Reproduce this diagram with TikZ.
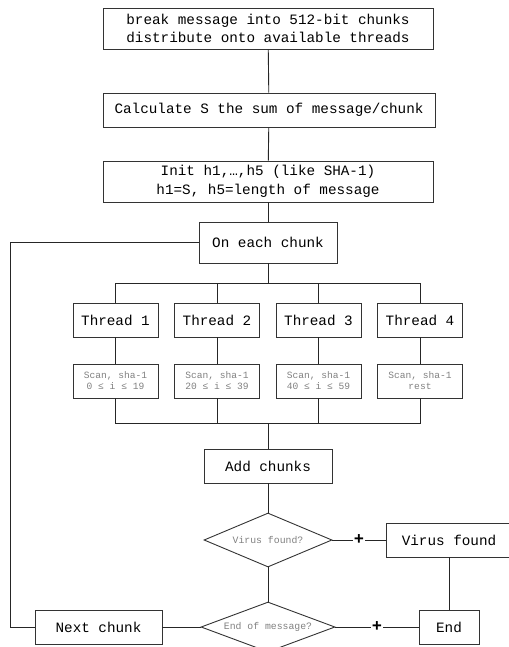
\documentclass[tikz,border=0pt]{standalone}
\usepackage{fontspec}
\usepackage{tikz}
\usetikzlibrary{shapes.geometric,positioning}
\newfontfamily\flowfont{Liberation Mono}

\tikzset{
  box/.style={draw=black!80, rectangle, inner sep=0pt, align=center,
    font=\flowfont\fontsize{14.3}{18.5}\selectfont},
  smallbox/.style={box, text=black!50,
    font=\flowfont\fontsize{9.6}{11}\selectfont},
  decision/.style={draw=black!80, diamond, inner sep=0pt, aspect=2.4,
    text=black!50, font=\flowfont\fontsize{9.8}{11}\selectfont},
  plus/.style={fill=white, inner sep=0.5pt,
    font=\flowfont\bfseries\fontsize{17}{17}\selectfont},
  link/.style={draw=black!85, line width=0.9pt}
}

\begin{document}
\begin{tikzpicture}[x=1pt, y=-1pt, line width=0.9pt]
\useasboundingbox (0,0) rectangle (508,647);

% Preparation
\node[box, minimum width=330, minimum height=41] (break) at (268,28.5)
  {break message into 512-bit chunks\\distribute onto available threads};
\node[box, minimum width=332, minimum height=34] (calc) at (269,110)
  {Calculate S the sum of message/chunk};
\node[box, minimum width=330, minimum height=41] (init) at (268,181.5)
  {Init h1,…,h5 (like SHA-1)\\h1=S, h5=length of message};
\node[box, minimum width=138, minimum height=41] (each) at (268,242.5)
  {On each chunk};

\draw[link] (break) -- (calc);
\draw[link] (calc) -- (init);
\draw[link] (init) -- (each);

% Threads
\coordinate (fork) at (268,283);
\coordinate (join) at (268,423);
\draw[link] (each) -- (fork);
\foreach \i/\x/\range in {1/115.5/{0 ≤ i ≤ 19},
                          2/217/{20 ≤ i ≤ 39},
                          3/318.5/{40 ≤ i ≤ 59},
                          4/420/{rest}} {
  \node[box, minimum width=85, minimum height=34] (th\i) at (\x,320) {Thread \i};
  \node[smallbox, minimum width=85, minimum height=34] (scan\i) at (\x,381)
    {Scan, sha-1\\\range};
  \draw[link] (fork) -| (th\i.north);
  \draw[link] (th\i) -- (scan\i);
  \draw[link] (scan\i.south) |- (join);
}

% Result
\node[box, minimum width=128, minimum height=34] (add) at (268,466) {Add chunks};
\node[decision, minimum width=128, minimum height=54] (virus) at (268,540)
  {Virus found?};
\node[box, minimum width=126, minimum height=34] (found) at (449,540)
  {Virus found};
\node[decision, minimum width=134, minimum height=50] (eom) at (268,627)
  {End of message?};
\node[box, minimum width=127, minimum height=34] (next) at (98.5,627)
  {Next chunk};
\node[box, minimum width=60, minimum height=34] (stop) at (449,627) {End};
\coordinate (back) at (10,627);

\draw[link] (join) -- (add);
\draw[link] (add) -- (virus);
\draw[link] (virus) -- node[plus] {+} (found);
\draw[link] (virus) -- (eom);
\draw[link] (found) -- (stop);
\draw[link] (eom) -- node[plus] {+} (stop);
\draw[link] (eom) -- (next);
\draw[link] (next) -- (back) |- (each);
\end{tikzpicture}
\end{document}
